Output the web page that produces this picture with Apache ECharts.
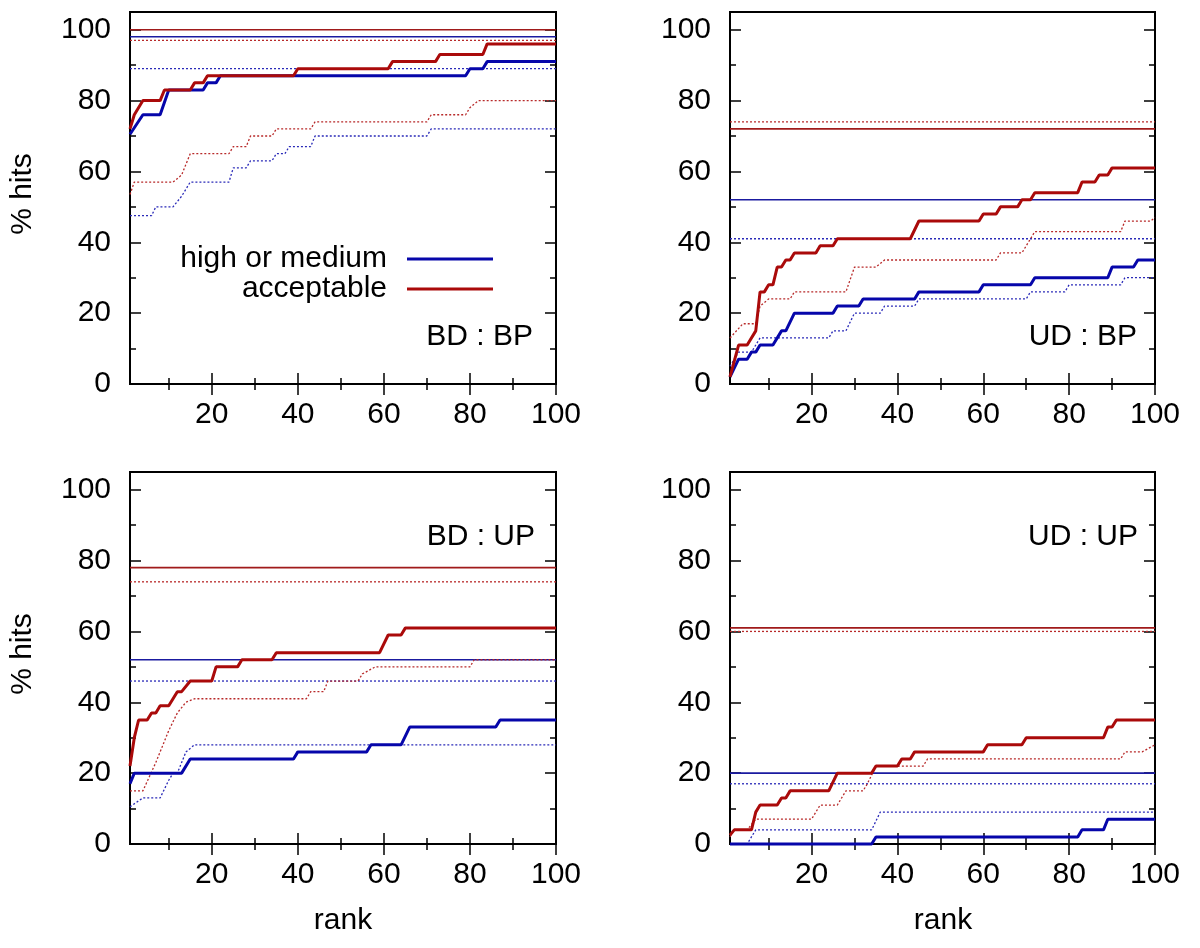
<!DOCTYPE html>
<html>
<head>
<meta charset="utf-8">
<script src="https://cdn.jsdelivr.net/npm/echarts@6/dist/echarts.min.js"></script>
<style>
html,body{margin:0;padding:0;background:#fff;}
#chart{width:1200px;height:948px;}
</style>
</head>
<body>
<div id="chart"></div>
<script>
// ---------------- data ----------------
const panelNames = ['BD : BP', 'UD : BP', 'BD : UP', 'UD : UP'];
const xTickMajor = [20, 40, 60, 80, 100];
const xTickMinor = [10, 30, 50, 70, 90];
const yTickMajor = [0, 20, 40, 60, 80, 100];
const yTickMinor = [10, 30, 50, 70, 90];

// horizontal reference levels per panel (BD:BP, UD:BP, BD:UP, UD:UP)
const levelSolidHigh = [98, 52, 52, 20];
const levelDotHigh   = [89, 41, 46, 17];
const levelSolidAcc  = [100, 72, 78, 61];
const levelDotAcc    = [97, 74, 74, 60];

// BD : BP
const bdbpHigh = [[1,70.5],[4,76],[8,76],[10,83],[18,83],[19,85],[21,85],[22,87],[79,87],[80,89],[83,89],[84,91],[100,91]];
const bdbpAcc  = [[1,72],[2,76],[4,80],[8,80],[9,83],[15,83],[16,85],[18,85],[19,87],[39,87],[40,89],[61,89],[62,91],[72,91],[73,93],[83,93],[84,96],[100,96]];
const bdbpHighDot = [[1,47.5],[6,47.5],[7,50],[11,50],[13,53],[15,57],[24,57],[25,61],[28,61],[29,63],[34,63],[35,65],[37,65],[38,67],[43,67],[44,70],[70,70],[71,72],[100,72]];
const bdbpAccDot  = [[1,53.5],[2,57],[11,57],[13,59],[15,65],[24,65],[25,67],[28,67],[29,70],[34,70],[35,72],[43,72],[44,74],[70,74],[71,76],[79,76],[80,78],[82,80],[100,80]];

// UD : BP
const udbpHigh = [[1,2],[3,7],[5,7],[6,9],[7,9],[8,11],[11,11],[13,15],[14,15],[16,20],[25,20],[26,22],[31,22],[32,24],[44,24],[45,26],[59,26],[60,28],[71,28],[72,30],[89,30],[90,33],[95,33],[96,35],[100,35]];
const udbpAcc  = [[1,2],[3,11],[5,11],[7,15],[8,26],[9,26],[10,28],[11,28],[12,33],[13,33],[14,35],[15,35],[16,37],[21,37],[22,39],[25,39],[26,41],[43,41],[45,46],[59,46],[60,48],[63,48],[64,50],[68,50],[69,52],[71,52],[72,54],[82,54],[83,57],[86,57],[87,59],[89,59],[90,61],[100,61]];
const udbpHighDot = [[1,5],[3,9],[6,9],[8,13],[24,13],[25,15],[28,15],[30,20],[36,20],[37,22],[44,22],[45,24],[70,24],[71,26],[79,26],[80,28],[92,28],[93,30],[100,30]];
const udbpAccDot  = [[1,13],[4,17],[7,17],[8,22],[10,24],[15,24],[16,26],[28,26],[30,33],[35,33],[37,35],[63,35],[64,37],[69,37],[72,43],[92,43],[93,46],[99,46],[100,47]];

// BD : UP
const bdupHigh = [[1,17],[2,20],[13,20],[15,24],[39,24],[40,26],[56,26],[57,28],[64,28],[66,33],[86,33],[87,35],[100,35]];
const bdupAcc  = [[1,22],[2,30],[3,35],[5,35],[6,37],[7,37],[8,39],[10,39],[12,43],[13,43],[15,46],[20,46],[21,50],[26,50],[27,52],[34,52],[35,54],[59,54],[61,59],[64,59],[65,61],[100,61]];
const bdupHighDot = [[1,10.5],[4,13],[8,13],[10,18],[11,20],[12,20],[14,26],[16,28],[100,28]];
const bdupAccDot  = [[1,15],[4,15],[7,23],[10,32],[12,37],[14,40],[16,41],[42,41],[43,43],[46,43],[47,46],[54,46],[55,48],[58,50],[80,50],[81,52],[100,52]];

// UD : UP
const udupHigh = [[1,0],[34,0],[35,2],[82,2],[83,4],[88,4],[89,7],[100,7]];
const udupAcc  = [[1,2.5],[2,4],[6,4],[7,9],[8,11],[12,11],[13,13],[14,13],[15,15],[24,15],[26,20],[34,20],[35,22],[40,22],[41,24],[43,24],[44,26],[60,26],[61,28],[69,28],[70,30],[88,30],[89,33],[90,33],[91,35],[100,35]];
const udupHighDot = [[1,0],[5,0],[7,4],[34,4],[36,9],[100,9]];
const udupAccDot  = [[1,2],[2,4],[5,4],[7,7],[20,7],[22,11],[26,11],[28,15],[32,15],[33,17],[35,22],[46,22],[47,24],[92,24],[93,26],[97,26],[100,28]];

const highCurves = [bdbpHigh, udbpHigh, bdupHigh, udupHigh];
const accCurves = [bdbpAcc, udbpAcc, bdupAcc, udupAcc];
const highDotCurves = [bdbpHighDot, udbpHighDot, bdupHighDot, udupHighDot];
const accDotCurves = [bdbpAccDot, udbpAccDot, bdupAccDot, udupAccDot];
const xRange = [1, 100];

// ---------------- styling ----------------
const FONT = '"Liberation Sans", Arial, Helvetica, sans-serif';
const FS = 30;
const BLUE = '#0606aa';
const RED = '#aa0a0a';
const BLUE_THIN = '#1a1aa0';
const RED_THIN = '#a01a1a';
const BLUE_DOT = '#2a2ab8';
const RED_DOT = '#b82a2a';

const grids = [
  {left: 130, top: 12, width: 426, height: 372},
  {left: 730, top: 12, width: 425, height: 372},
  {left: 130, top: 472, width: 426, height: 372},
  {left: 730, top: 472, width: 425, height: 372}
].map(g => Object.assign(g, {show: true, borderColor: '#000', borderWidth: 2, backgroundColor: 'transparent', containLabel: false}));

const xAxes = [], yAxes = [];
grids.forEach((g, i) => {
  const base = {type: 'value', gridIndex: i, min: xRange[0], max: xRange[1],
    axisLine: {show: false}, splitLine: {show: false}};
  xAxes.push(Object.assign({}, base, {position: 'bottom',
    axisTick: {show: true, inside: true, length: 11, customValues: xTickMajor, lineStyle: {color: '#000', width: 1.5}},
    axisLabel: {show: true, customValues: xTickMajor, margin: 16, color: '#000', fontSize: FS, fontFamily: FONT}}));
  xAxes.push(Object.assign({}, base, {position: 'bottom',
    axisTick: {show: true, inside: true, length: 6, customValues: xTickMinor, lineStyle: {color: '#000', width: 1.5}},
    axisLabel: {show: false}}));
  xAxes.push(Object.assign({}, base, {position: 'top',
    axisTick: {show: true, inside: true, length: 11, customValues: xTickMajor, lineStyle: {color: '#000', width: 1.5}},
    axisLabel: {show: false}}));
  xAxes.push(Object.assign({}, base, {position: 'top',
    axisTick: {show: true, inside: true, length: 6, customValues: xTickMinor, lineStyle: {color: '#000', width: 1.5}},
    axisLabel: {show: false}}));

  const ybase = {type: 'value', gridIndex: i, min: 0, max: 105,
    axisLine: {show: false}, splitLine: {show: false}};
  yAxes.push(Object.assign({}, ybase, {position: 'left',
    axisTick: {show: true, inside: true, length: 11, customValues: yTickMajor, lineStyle: {color: '#000', width: 1.5}},
    axisLabel: {show: true, customValues: yTickMajor, margin: 19, color: '#000', fontSize: FS, fontFamily: FONT}}));
  yAxes.push(Object.assign({}, ybase, {position: 'left',
    axisTick: {show: true, inside: true, length: 6, customValues: yTickMinor, lineStyle: {color: '#000', width: 1.5}},
    axisLabel: {show: false}}));
  yAxes.push(Object.assign({}, ybase, {position: 'right',
    axisTick: {show: true, inside: true, length: 11, customValues: yTickMajor, lineStyle: {color: '#000', width: 1.5}},
    axisLabel: {show: false}}));
  yAxes.push(Object.assign({}, ybase, {position: 'right',
    axisTick: {show: true, inside: true, length: 6, customValues: yTickMinor, lineStyle: {color: '#000', width: 1.5}},
    axisLabel: {show: false}}));
});

function lineSeries(name, i, data, color, width, type, z) {
  return {
    name: name, type: 'line', xAxisIndex: 4 * i, yAxisIndex: 4 * i,
    data: data, symbol: 'none', showSymbol: false, clip: false, silent: true,
    lineStyle: {color: color, width: width, type: type},
    itemStyle: {color: color}, z: z, animation: false
  };
}

const series = [];
panelNames.forEach((p, i) => {
  const flat = v => [[xRange[0], v], [xRange[1], v]];
  series.push(lineSeries(p + ' dotted high level', i, flat(levelDotHigh[i]), BLUE_DOT, 1.3, [2, 2], 2));
  series.push(lineSeries(p + ' dotted acceptable level', i, flat(levelDotAcc[i]), RED_DOT, 1.3, [2, 2], 2));
  series.push(lineSeries(p + ' high level', i, flat(levelSolidHigh[i]), BLUE_THIN, 1.6, 'solid', 3));
  series.push(lineSeries(p + ' acceptable level', i, flat(levelSolidAcc[i]), RED_THIN, 1.6, 'solid', 3));
  series.push(lineSeries(p + ' dotted high', i, highDotCurves[i], BLUE_DOT, 1.3, [2, 2], 4));
  series.push(lineSeries(p + ' dotted acceptable', i, accDotCurves[i], RED_DOT, 1.3, [2, 2], 4));
  series.push(lineSeries(i === 0 ? 'high or medium' : p + ' high or medium', i, highCurves[i], BLUE, 3, 'solid', 5));
  series.push(lineSeries(i === 0 ? 'acceptable' : p + ' acceptable', i, accCurves[i], RED, 3, 'solid', 6));
});

const legendBase = {orient: 'vertical', align: 'right', right: 707, icon: 'rect',
  itemWidth: 86, itemHeight: 3, padding: 0, selectedMode: false,
  textStyle: {fontSize: FS, fontFamily: FONT, color: '#000', padding: [0, 15, 0, 0]}};

const textStyle = (t, x, y, align) => ({type: 'text', x: x, y: y, silent: true,
  style: {text: t, fill: '#000', font: FS + 'px ' + FONT, align: align, verticalAlign: 'middle'}});

const graphics = [
  textStyle(panelNames[0], 533, 337, 'right'),
  textStyle(panelNames[1], 1137, 337, 'right'),
  textStyle(panelNames[2], 535, 537, 'right'),
  textStyle(panelNames[3], 1138, 537, 'right'),
  textStyle('rank', 343, 921, 'center'),
  textStyle('rank', 943, 921, 'center'),
  Object.assign(textStyle('% hits', 23, 194, 'center'), {rotation: Math.PI / 2}),
  Object.assign(textStyle('% hits', 23, 654, 'center'), {rotation: Math.PI / 2})
];

const chart = echarts.init(document.getElementById('chart'), null, {renderer: 'canvas'});
chart.setOption({
  backgroundColor: '#fff',
  animation: false,
  grid: grids,
  xAxis: xAxes,
  yAxis: yAxes,
  legend: [
    Object.assign({}, legendBase, {data: ['high or medium'], top: 244}),
    Object.assign({}, legendBase, {data: ['acceptable'], top: 274})
  ],
  graphic: graphics,
  series: series
});
</script>
</body>
</html>
